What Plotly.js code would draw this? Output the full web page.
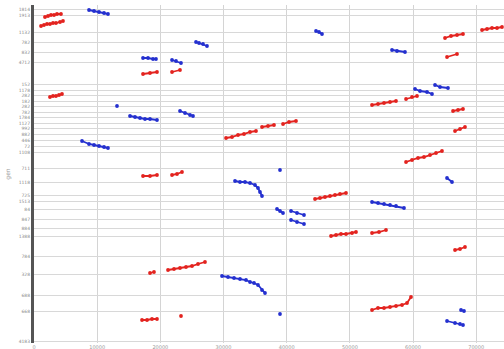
<!DOCTYPE html>
<html><head><meta charset="utf-8">
<script src="https://cdn.plot.ly/plotly-3.0.1.min.js"></script>
<style>html,body{margin:0;padding:0;background:#fff}#chart{width:504px;height:349px}</style>
</head><body><div id="chart"></div>
<script>
// Red segments (null separates segments)
const redX = [1740,2220,2690,3170,3640,4270,null,
  1110,1580,2060,2530,3010,3480,4120,4590,null,
  2530,3010,3480,3960,4430,null,
  17255,18363,19471,null,
  21845,23112,null,
  17255,18363,19471,null,
  21845,22637,23428,null,
  30394,31343,32293,33243,34193,35143,null,
  36092,37042,37992,null,
  39417,40367,41475,null,
  44482,45274,46065,46857,47648,48440,49390,null,
  47015,47807,48598,49390,50339,50973,null,
  53505,54614,55722,null,
  53505,54455,55405,56355,57305,null,
  58888,59838,60629,null,
  65061,66011,66961,67911,null,
  65378,66961,null,
  70918,71710,72501,73293,74084,null,
  66328,67119,67911,null,
  66644,67436,68227,null,
  58888,59838,60787,61737,62687,63637,64586,null,
  66644,67436,68227,null,
  18363,18996,null,
  21212,22162,23112,24062,25011,25961,27069,null,
  17096,17888,18679,19471,null,
  23270,null,
  53505,54455,55405,56355,57305,58254,59046,59679];
const redY = [12,11,10,10,9,9,null,
  21,20,19,19,18,18,17,16,null,
  92,91,91,90,89,null,
  69,68,67,null,
  67,65,null,
  171,171,170,null,
  170,169,167,null,
  133,132,130,129,127,126,null,
  122,121,120,null,
  119,117,116,null,
  194,193,192,191,190,189,188,null,
  231,230,229,229,228,227,null,
  228,227,225,null,
  100,99,98,97,96,null,
  94,92,91,null,
  33,31,30,29,null,
  52,49,null,
  25,24,23,23,22,null,
  106,105,104,null,
  126,124,122,null,
  157,155,153,152,150,148,146,null,
  245,244,242,null,
  268,267,null,
  265,264,263,262,261,259,257,null,
  315,315,314,314,null,
  311,null,
  305,303,303,302,301,300,298,292];

// Blue segments
const blueX = [8707,9498,10290,11081,11714,null,
  17255,18046,18838,19313,null,
  21845,22479,23270,null,
  25645,26120,26753,27386,null,
  13139,null,
  15197,15988,16780,17571,18363,19471,null,
  23112,23903,24695,25170,null,
  7598,8707,9498,10290,11081,11714,null,
  31818,32610,33401,34193,34984,35459,35776,36092,null,
  38942,null,
  38467,38942,39417,null,
  40683,41633,42741,null,
  40683,41633,42741,null,
  29760,30710,31660,32610,33560,34193,34826,35459,36092,36567,null,
  44641,45116,45590,null,
  56671,57463,58729,null,
  60312,61104,62212,63003,null,
  63478,64270,65536,null,
  53505,54455,55405,56355,57305,58571,null,
  65378,66169,null,
  65378,66644,67436,67911,null,
  67594,68069,null,
  38942];
const blueY = [5,6,7,8,9,null,
  53,53,54,54,null,
  55,56,58,null,
  37,38,39,41,null,
  101,null,
  111,112,113,114,114,115,null,
  106,108,110,111,null,
  136,139,140,141,142,143,null,
  176,177,177,178,180,183,187,191,null,
  165,null,
  204,206,208,null,
  206,208,210,null,
  215,217,219,null,
  271,272,273,274,275,277,278,280,285,288,null,
  26,27,29,null,
  45,46,47,null,
  84,86,87,89,null,
  80,82,83,null,
  197,198,199,200,201,203,null,
  173,177,null,
  316,318,319,320,null,
  305,306,null,
  309];

const yTickVals = [4,10,27,37,47,57,79,85,90.5,96,101.5,107,112.5,118,123.5,129,135,141.5,147,163,177,190.5,196.5,204,214,223,231,251,269,290,306,336];
const yTickText = ["1814","1913","1132","782","832","4712","152","1178","282","182","282","782","1784","1127","992","882","446","72","1108","711","1118","725","1513","84","847","884","1388","784","328","688","668","4183"];
const xTickVals = [0,10000,20000,30000,40000,50000,60000,70000];
const xTickText = ["0","10000","20000","30000","40000","50000","60000","70000"];

const traces = [
  {x: redX, y: redY, type:'scatter', mode:'lines+markers', connectgaps:false,
   line:{color:'#e3231f', width:1.8}, marker:{color:'#e3231f', size:3.8}, hoverinfo:'none'},
  {x: blueX, y: blueY, type:'scatter', mode:'lines+markers', connectgaps:false,
   line:{color:'#2430cf', width:1.8}, marker:{color:'#2430cf', size:3.8}, hoverinfo:'none'}
];

const layout = {
  width:504, height:349,
  margin:{l:34, r:0, t:5, b:6},
  paper_bgcolor:'#fff', plot_bgcolor:'#fff',
  showlegend:false,
  font:{family:'DejaVu Sans', color:'#888'},
  xaxis:{range:[0,74400], tickvals:xTickVals, ticktext:xTickText, showgrid:true,
    gridcolor:'#d4d4d4', gridwidth:1, zeroline:false, showline:false,
    tickfont:{size:5, color:'#999'}, ticks:'', ticklabelstandoff:0},
  yaxis:{range:[338,0], tickvals:yTickVals, ticktext:yTickText, showgrid:true,
    gridcolor:'#d8d8d8', gridwidth:1, zeroline:false, showline:true,
    linecolor:'#555', linewidth:3, ticks:'', tickfont:{size:4.5, color:'#8a8a8a'},
    title:{text:'gen', font:{size:6, color:'#999'}, standoff:8}}
};
Plotly.newPlot('chart', traces, layout, {staticPlot:true, displayModeBar:false});
</script></body></html>
